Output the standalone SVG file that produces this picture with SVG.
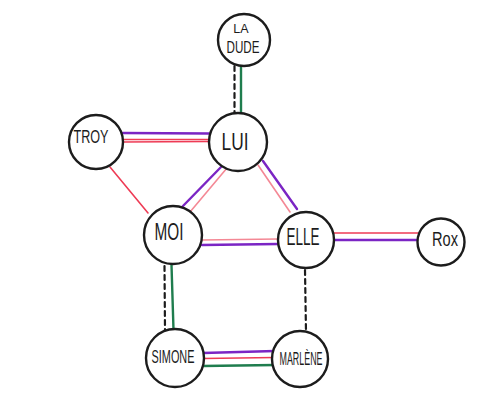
<svg xmlns="http://www.w3.org/2000/svg" width="500" height="406" viewBox="0 0 500 406">
<style>
.node circle{fill:#fff;stroke:#1c1c1c;stroke-width:2.4}
.node text{font-family:"Liberation Sans","DejaVu Sans",sans-serif;fill:#1c1c1c;text-anchor:middle}
.c line{fill:none;stroke-linecap:round}
.red{stroke:#ee3b55;stroke-width:1.6}
.pink{stroke:#f48895;stroke-width:1.6}
.pur{stroke:#7b25c4;stroke-width:2.4}
.grn{stroke:#1f7d4e;stroke-width:2.4}
.dash{stroke:#1c1c1c;stroke-width:2.2;stroke-dasharray:5 4}
</style>
<rect width="500" height="406" fill="#fff"/>
<g id="connectors" class="c">
<!-- La Dude - Lui -->
<line class="dash" x1="234.5" y1="66" x2="234.5" y2="113"/>
<line class="grn" x1="241" y1="66" x2="241" y2="113"/>
<!-- Troy - Lui -->
<line class="pur" x1="123" y1="133" x2="209" y2="133.5"/>
<line class="red" x1="123" y1="139.5" x2="209" y2="139.5"/>
<line class="red" x1="123" y1="142" x2="209" y2="141.5"/>
<!-- Troy - Moi -->
<line class="red" x1="110" y1="167" x2="148" y2="213"/>
<!-- Lui - Moi -->
<line class="pur" x1="222" y1="166" x2="182" y2="207"/>
<line class="pink" x1="227" y1="168" x2="190" y2="212"/>
<!-- Lui - Elle -->
<line class="pink" x1="258" y1="165" x2="290" y2="212"/>
<line class="pur" x1="263" y1="161" x2="297" y2="209"/>
<!-- Moi - Elle -->
<line class="pink" x1="202" y1="240" x2="278" y2="239"/>
<line class="pur" x1="202" y1="245" x2="278" y2="244"/>
<!-- Elle - Rox -->
<line class="red" x1="334" y1="233" x2="418" y2="233"/>
<line class="pur" x1="334" y1="240" x2="418" y2="240"/>
<!-- Moi - Simone -->
<line class="dash" x1="164.5" y1="266" x2="165" y2="330"/>
<line class="grn" x1="171.5" y1="265" x2="173.5" y2="330"/>
<!-- Elle - Marlene -->
<line class="dash" x1="305" y1="270" x2="306" y2="332"/>
<!-- Simone - Marlene -->
<line class="pur" x1="203" y1="353" x2="275" y2="351"/>
<line class="red" x1="203" y1="358.5" x2="275" y2="357.5"/>
<line class="grn" x1="203" y1="366" x2="275" y2="365"/>
</g>
<g id="la-dude" class="node">
<circle cx="244" cy="40" r="26"/>
<text x="241" y="33" font-size="12.5">LA</text>
<text x="243" y="53" font-size="17" textLength="33" lengthAdjust="spacingAndGlyphs">DUDE</text>
</g>
<g id="troy" class="node">
<circle cx="96" cy="142" r="27"/>
<text x="91" y="143" font-size="18" textLength="35" lengthAdjust="spacingAndGlyphs">TROY</text>
</g>
<g id="lui" class="node">
<circle cx="238" cy="142" r="29"/>
<text x="235" y="150" font-size="23" textLength="27" lengthAdjust="spacingAndGlyphs">LUI</text>
</g>
<g id="moi" class="node">
<circle cx="173" cy="235" r="29"/>
<text x="169" y="240" font-size="23" textLength="29" lengthAdjust="spacingAndGlyphs">MOI</text>
</g>
<g id="elle" class="node">
<circle cx="306" cy="240" r="28"/>
<text x="303" y="245" font-size="23" textLength="33" lengthAdjust="spacingAndGlyphs">ELLE</text>
</g>
<g id="rox" class="node">
<circle cx="441" cy="242" r="23.5"/>
<text x="445" y="245.5" font-size="20" textLength="26" lengthAdjust="spacingAndGlyphs">Rox</text>
</g>
<g id="simone" class="node">
<circle cx="175" cy="358" r="29"/>
<text x="173" y="363" font-size="19" textLength="43" lengthAdjust="spacingAndGlyphs">SIMONE</text>
</g>
<g id="marlene" class="node">
<circle cx="300" cy="359" r="28"/>
<text x="301" y="365" font-size="19" textLength="43" lengthAdjust="spacingAndGlyphs">MARLÈNE</text>
</g>
</svg>
